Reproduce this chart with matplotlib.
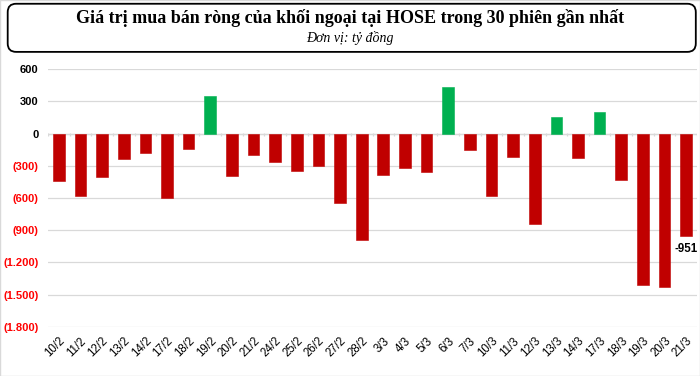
#!/usr/bin/env python3
"""Net foreign buy/sell value on HOSE over the last 30 sessions."""

import matplotlib
import numpy as np

matplotlib.use("Agg")
import matplotlib.pyplot as plt
from matplotlib.patches import FancyBboxPatch
from matplotlib.ticker import FixedLocator

SESSIONS = [
    "10/2", "11/2", "12/2", "13/2", "14/2", "17/2", "18/2", "19/2", "20/2", "21/2",
    "24/2", "25/2", "26/2", "27/2", "28/2", "3/3", "4/3", "5/3", "6/3", "7/3",
    "10/3", "11/3", "12/3", "13/3", "14/3", "17/3", "18/3", "19/3", "20/3", "21/3",
]
NET_VALUE = [
    -445, -582, -407, -237, -181, -600, -143, 351, -395, -196,
    -261, -345, -298, -643, -988, -386, -324, -354, 432, -149,
    -578, -218, -843, 152, -227, 205, -432, -1411, -1427, -951,
]
Y_TICKS = [600, 300, 0, -300, -600, -900, -1200, -1500, -1800]

RED = "#C00000"
GREEN = "#00B050"
GRID = "#D9D9D9"


def fmt_tick(v: int) -> str:
    s = f"{abs(v):,}".replace(",", ".")
    return f"({s})" if v < 0 else s


def main() -> None:
    plt.rcParams["font.family"] = ["Liberation Sans", "DejaVu Sans"]
    fig = plt.figure(figsize=(7.0, 3.76), dpi=100)
    ax = fig.add_axes([0.0686, 0.131, 0.9271, 0.6847])

    x = np.arange(len(SESSIONS))
    values = np.array(NET_VALUE)
    colors = [GREEN if v > 0 else RED for v in values]
    ax.bar(x, values, width=0.54, color=colors, edgecolor=colors, lw=0.4, zorder=3)

    ax.set_xlim(-0.5, len(SESSIONS) - 0.5)
    ax.set_ylim(Y_TICKS[-1], Y_TICKS[0])
    ax.yaxis.set_major_locator(FixedLocator(Y_TICKS))
    ax.set_yticklabels([fmt_tick(v) for v in Y_TICKS])
    for lbl, v in zip(ax.get_yticklabels(), Y_TICKS):
        lbl.set_color("#FF0000" if v < 0 else "black")
        lbl.set_fontweight("bold")
        lbl.set_fontsize(8)
    ax.tick_params(axis="y", length=0, pad=7)

    ax.set_xticks(x)
    ax.set_xticklabels(SESSIONS, rotation=45, ha="right", va="top",
                       rotation_mode="anchor", fontsize=8.3)
    ax.tick_params(axis="x", length=0, pad=6)

    ax.grid(axis="y", color=GRID, lw=0.9, zorder=0)
    for side in ("top", "right", "left", "bottom"):
        ax.spines[side].set_visible(False)

    # zero line with category separators
    ax.axhline(0, color=GRID, lw=0.9, zorder=2)
    ax.vlines(np.arange(len(SESSIONS) + 1) - 0.5, -25, 10, color=GRID, lw=0.9, zorder=2)

    last = len(SESSIONS) - 1
    ax.annotate(f"{NET_VALUE[last]}", (x[last], NET_VALUE[last]),
                xytext=(0, -5), textcoords="offset points",
                ha="center", va="top", fontsize=8.3, fontweight="bold")

    # title box
    box = FancyBboxPatch((0.011, 0.862), 0.983, 0.128,
                         boxstyle="round,pad=0,rounding_size=0.012",
                         transform=fig.transFigure, fill=False,
                         edgecolor="black", lw=1.3, mutation_aspect=1.86)
    fig.add_artist(box)
    fig.text(0.5, 0.951, "Giá trị mua bán ròng của khối ngoại tại HOSE trong 30 phiên gần nhất",
             ha="center", va="center", fontsize=13, fontweight="bold",
             family=["Liberation Serif", "DejaVu Serif"])
    fig.text(0.5, 0.899, "Đơn vị: tỷ đồng", ha="center", va="center",
             fontsize=10, style="italic", family=["Liberation Serif", "DejaVu Serif"])

    # light outer frame
    frame = plt.Rectangle((0.0007, 0.0013), 0.9986, 0.9974, transform=fig.transFigure,
                          fill=False, edgecolor="#D9D9D9", lw=1.0)
    fig.add_artist(frame)

    fig.savefig("out.png", dpi=100)
    plt.close(fig)


if __name__ == "__main__":
    main()
